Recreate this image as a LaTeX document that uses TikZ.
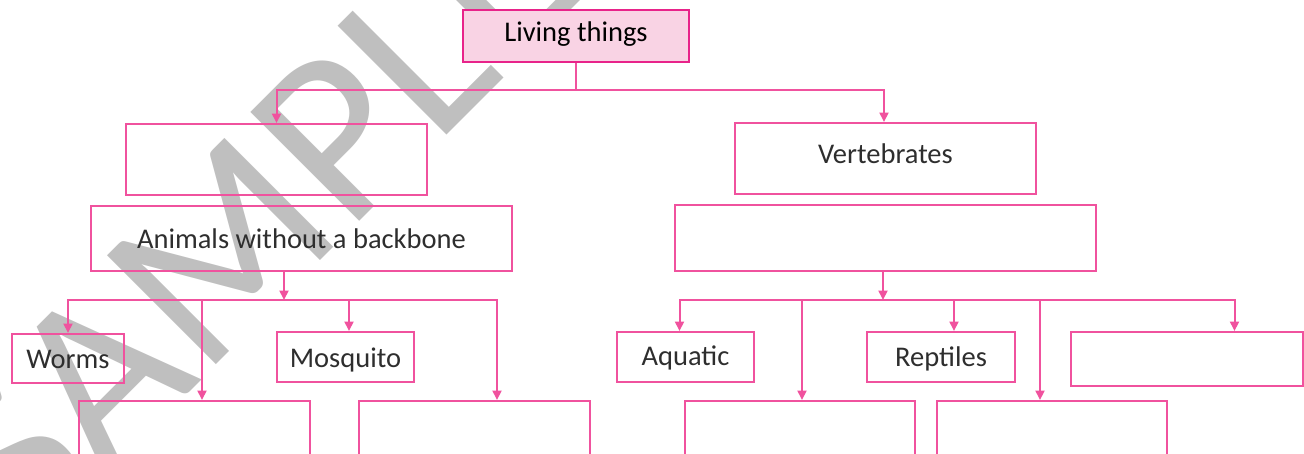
\documentclass[tikz,border=0pt]{standalone}
\usepackage{fontspec}
\setmainfont{Carlito}
\usetikzlibrary{arrows.meta}
\definecolor{pk}{HTML}{F0529E}
\definecolor{pkd}{HTML}{E8238A}
\definecolor{pkf}{HTML}{F9D3E4}
\definecolor{wm}{HTML}{BFBFBF}
\begin{document}
\begin{tikzpicture}[x=1pt,y=-1pt,
  box/.style={draw=pk,line width=2pt,inner sep=0pt,rectangle,
    font=\fontsize{28.5}{30}\selectfont,text=black!82,text depth=0pt},
  conn/.style={draw=pk,line width=2pt},
  arr/.style={conn,-{Triangle[length=9.5pt,width=9pt]}}]
\useasboundingbox (0,0) rectangle (1304,453);
\clip (0,0) rectangle (1304,453);
% watermark
\node[font=\fontsize{240}{240}\selectfont, text=wm, rotate=45, anchor=base west, inner sep=0pt] (wmk) at (27.5,554) {SAMPLE};
% boxes
\node[box,draw=pkd,fill=pkf,text=black,minimum width=226pt,minimum height=52pt,text height=10pt] (lt) at (576,36) {Living things};
\node[box,minimum width=301pt,minimum height=71pt] (a1) at (276.5,159.5) {};
\node[box,minimum width=301pt,minimum height=71pt,text height=9pt] (vt) at (885.5,158.5) {Vertebrates};
\node[box,minimum width=421pt,minimum height=65pt,text height=19pt] (anim) at (301.5,238.5) {Animals without a backbone};
\node[box,minimum width=421pt,minimum height=66pt] (v2) at (885.5,238) {};
\node[box,minimum width=112pt,minimum height=49pt,text height=19pt] (worms) at (68,358.5) {Worms};
\node[box,minimum width=137pt,minimum height=50pt,text height=20pt] (mosq) at (345.5,357) {Mosquito};
\node[box,minimum width=231pt,minimum height=79pt] (bl1) at (194.5,440.5) {};
\node[box,minimum width=231pt,minimum height=79pt] (bl2) at (474.5,440.5) {};
\node[box,minimum width=137pt,minimum height=50pt,text height=16pt] (aq) at (685.5,357) {Aquatic};
\node[box,minimum width=148pt,minimum height=50pt,text height=18pt] (rep) at (941,357) {Reptiles};
\node[box,minimum width=232pt,minimum height=54pt] (re) at (1187,359) {};
\node[box,minimum width=230pt,minimum height=79pt] (br1) at (800,440.5) {};
\node[box,minimum width=230pt,minimum height=79pt] (br2) at (1052,440.5) {};
% connectors
\coordinate (j1) at (576,90);
\draw[conn] (lt.south) -- (j1);
\draw[arr] (j1) -| (a1.north);
\draw[arr] (j1) -| ([xshift=-1.5pt]vt.north);
\coordinate (j2) at (284,300);
\draw[arr] (anim.south -| j2) -- (j2);
\draw[arr] (j2) -| (worms.north);
\draw[arr] (j2) -| ([xshift=3.5pt]mosq.north);
\draw[arr] (j2) -| ([xshift=7.5pt]bl1.north);
\draw[arr] (j2) -| ([xshift=22.5pt]bl2.north);
\coordinate (j3) at (883,300);
\draw[arr] (v2.south -| j3) -- (j3);
\draw[arr] (j3) -| ([xshift=-6pt]aq.north);
\draw[arr] (j3) -| ([xshift=2pt]br1.north);
\draw[arr] (j3) -| ([xshift=13pt]rep.north);
\draw[arr] (j3) -| ([xshift=-12pt]br2.north);
\draw[arr] (j3) -| ([xshift=47.5pt]re.north);
\end{tikzpicture}
\end{document}
